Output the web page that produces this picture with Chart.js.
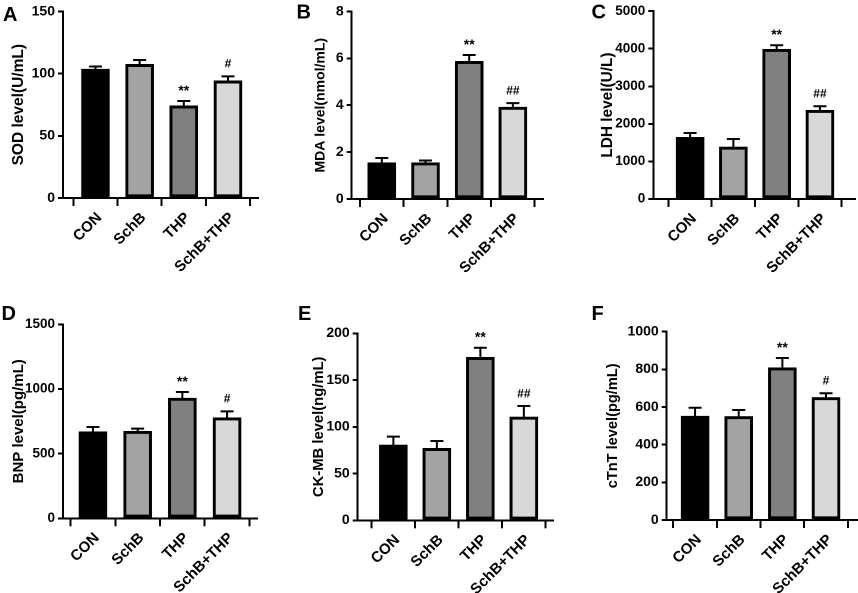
<!DOCTYPE html>
<html>
<head>
<meta charset="utf-8">
<script src="https://cdn.jsdelivr.net/npm/chart.js@4.4.1/dist/chart.umd.min.js"></script>
<style>
  html, body { margin: 0; padding: 0; background: #fff; }
  #wrap { position: relative; width: 858px; height: 593px; overflow: hidden; background: #fff; }
  .panel { position: absolute; }
</style>
</head>
<body>
<div id="wrap"></div>
<script>
// ---------- data ----------
const categories = ['CON', 'SchB', 'THP', 'SchB+THP'];

const sodMean = [103.6, 107.5, 74.1, 94.2];
const sodErr  = [2.1, 3.4, 3.9, 3.6];
const sodSig  = ['', '', '**', '#'];

const mdaMean = [1.55, 1.55, 5.87, 3.92];
const mdaErr  = [0.20, 0.09, 0.27, 0.17];
const mdaSig  = ['', '', '**', '##'];

const ldhMean = [1640, 1384, 3986, 2363];
const ldhErr  = [115, 212, 106, 106];
const ldhSig  = ['', '', '**', '##'];

const bnpMean = [670, 673, 930, 778];
const bnpErr  = [36, 20, 47, 49];
const bnpSig  = ['', '', '**', '#'];

const ckmbMean = [80.6, 77.0, 174.3, 110.5];
const ckmbErr  = [8.9, 7.8, 10.3, 11.8];
const ckmbSig  = ['', '', '**', '##'];

const ctntMean = [552, 550, 809, 651];
const ctntErr  = [44, 34, 51, 22];
const ctntSig  = ['', '', '**', '#'];

const yTicksSOD = [0, 50, 100, 150];
const yTicksMDA = [0, 2, 4, 6, 8];
const yTicksLDH = [0, 1000, 2000, 3000, 4000, 5000];
const yTicksBNP = [0, 500, 1000, 1500];
const yTicksCKMB = [0, 50, 100, 150, 200];
const yTicksCTNT = [0, 200, 400, 600, 800, 1000];

const barColors = ['#000000', '#a3a3a3', '#808080', '#d8d8d8'];

// ---------- layout (positions / sizes) ----------
const FONT = "'Liberation Sans', Arial, Helvetica, sans-serif";
Chart.defaults.font.family = FONT;
Chart.defaults.color = '#000';

const panels = [
  { letter: 'A', lx: 3, ly: 21, left: 0, top: 0, w: 290, h: 290, yW: 63, padTop: 7, padRight: 32, xH: 92,
    xmin: -0.735, xmax: 3.68, title: 'SOD level(U/mL)', tSize: 15.5, tCenter: 18.5,
    mean: sodMean, err: sodErr, sig: sodSig, yt: yTicksSOD, tickSize: 14 },
  { letter: 'B', lx: 6.5, ly: 18.5, left: 290, top: 0, w: 290, h: 290, yW: 61.7, padTop: 10, padRight: 37, xH: 91,
    xmin: -0.69, xmax: 3.69, title: 'MDA level(nmol/mL)', tSize: 14, tCenter: 30.8,
    mean: mdaMean, err: mdaErr, sig: mdaSig, yt: yTicksMDA, tickSize: 14 },
  { letter: 'C', lx: 11.5, ly: 18.5, left: 580, top: 0, w: 278, h: 290, yW: 73.3, padTop: 10, padRight: 3, xH: 91,
    xmin: -0.85, xmax: 3.81, title: 'LDH level(U/L)', tSize: 15.4, tCenter: 27.5,
    mean: ldhMean, err: ldhErr, sig: ldhSig, yt: yTicksLDH, tickSize: 13.5 },
  { letter: 'D', lx: 1.5, ly: 30, left: 0, top: 290, w: 290, h: 303, yW: 63, padTop: 34.3, padRight: 33, xH: 74.7,
    xmin: -0.67, xmax: 3.67, title: 'BNP level(pg/mL)', tSize: 15, tCenter: 19,
    mean: bnpMean, err: bnpErr, sig: bnpSig, yt: yTicksBNP, tickSize: 13.5 },
  { letter: 'E', lx: 8, ly: 30, left: 290, top: 290, w: 290, h: 303, yW: 67.7, padTop: 43.3, padRight: 27, xH: 72.7,
    xmin: -0.82, xmax: 3.67, title: 'CK-MB level(ng/mL)', tSize: 14.8, tCenter: 29,
    mean: ckmbMean, err: ckmbErr, sig: ckmbSig, yt: yTicksCKMB, tickSize: 14 },
  { letter: 'F', lx: 11.5, ly: 30, left: 580, top: 290, w: 278, h: 303, yW: 86.7, padTop: 41.7, padRight: 1, xH: 73,
    xmin: -0.65, xmax: 3.71, title: 'cTnT level(pg/mL)', tSize: 14.6, tCenter: 33,
    mean: ctntMean, err: ctntErr, sig: ctntSig, yt: yTicksCTNT, tickSize: 14 }
];

// error bars, significance marks and panel letters
const annotPlugin = {
  id: 'annot',
  afterDatasetsDraw(chart) {
    const { ctx, scales: { x, y } } = chart;
    const ds = chart.data.datasets[0];
    ctx.save();
    ds.data.forEach((d, i) => {
      const px = x.getPixelForValue(d.x);
      const py = y.getPixelForValue(d.y);
      const pt = y.getPixelForValue(d.y + ds.errors[i]);
      ctx.strokeStyle = '#000';
      ctx.lineWidth = 2;
      ctx.beginPath();
      ctx.moveTo(px, py);
      ctx.lineTo(px, pt);
      ctx.moveTo(px - 6.5, pt);
      ctx.lineTo(px + 6.5, pt);
      ctx.stroke();
      const s = ds.sig[i];
      if (s) {
        ctx.fillStyle = '#000';
        ctx.textAlign = 'center';
        ctx.textBaseline = 'middle';
        if (s.startsWith('*')) {
          ctx.font = 'bold 14px ' + FONT;
          ctx.fillText(s, px, pt - 10);
        } else {
          ctx.font = 'bold 12px ' + FONT;
          ctx.fillText(s, px, pt - 12);
        }
      }
    });
    const p = chart.options.plugins.annot;
    ctx.font = 'bold 20px ' + FONT;
    ctx.fillStyle = '#000';
    ctx.textAlign = 'left';
    ctx.textBaseline = 'alphabetic';
    ctx.fillText(p.letter, p.lx, p.ly);
    ctx.restore();
  }
};

const wrap = document.getElementById('wrap');
panels.forEach(p => {
  const div = document.createElement('div');
  div.className = 'panel';
  div.style.left = p.left + 'px';
  div.style.top = p.top + 'px';
  div.style.width = p.w + 'px';
  div.style.height = p.h + 'px';
  const cv = document.createElement('canvas');
  cv.width = p.w; cv.height = p.h;
  cv.style.width = p.w + 'px'; cv.style.height = p.h + 'px';
  div.appendChild(cv);
  wrap.appendChild(div);

  const yMax = p.yt[p.yt.length - 1];

  new Chart(cv, {
    type: 'bar',
    data: {
      datasets: [{
        data: categories.map((c, i) => ({ x: i, y: p.mean[i] })),
        errors: p.err,
        sig: p.sig,
        backgroundColor: barColors,
        borderColor: '#000',
        borderWidth: 3,
        borderSkipped: false,
        barThickness: 28
      }]
    },
    options: {
      responsive: false,
      animation: false,
      devicePixelRatio: 2,
      layout: { padding: { left: 0, top: p.padTop, right: p.padRight, bottom: 0 } },
      plugins: {
        legend: { display: false },
        tooltip: { enabled: false },
        annot: { letter: p.letter, lx: p.lx, ly: p.ly }
      },
      scales: {
        x: {
          type: 'linear',
          min: p.xmin,
          max: p.xmax,
          offset: false,
          afterFit: s => { s.height = p.xH; },
          afterBuildTicks: s => { s.ticks = categories.map((c, i) => ({ value: i })); },
          ticks: {
            callback: (v, i) => categories[i],
            autoSkip: false,
            maxRotation: 45,
            minRotation: 45,
            padding: 3,
            labelOffset: 4,
            color: '#000',
            font: { size: 15, weight: 'bold' }
          },
          grid: { drawOnChartArea: false, drawTicks: true, tickLength: 8, color: '#000', lineWidth: 2 },
          border: { display: true, color: '#000', width: 2 }
        },
        y: {
          min: 0,
          max: yMax,
          afterFit: s => { s.width = p.yW; },
          afterBuildTicks: s => { s.ticks = p.yt.map(v => ({ value: v })); },
          ticks: {
            callback: v => String(v),
            padding: 3,
            color: '#000',
            font: { size: p.tickSize, weight: 'bold' }
          },
          title: {
            display: true,
            text: p.title,
            color: '#000',
            font: { size: p.tSize, weight: 'bold', lineHeight: 1 },
            padding: { top: p.tCenter - p.tSize / 2, bottom: 0 }
          },
          grid: { drawOnChartArea: false, drawTicks: true, tickLength: 5, color: '#000', lineWidth: 2 },
          border: { display: true, color: '#000', width: 2 }
        }
      }
    },
    plugins: [annotPlugin]
  });
});
</script>
</body>
</html>
